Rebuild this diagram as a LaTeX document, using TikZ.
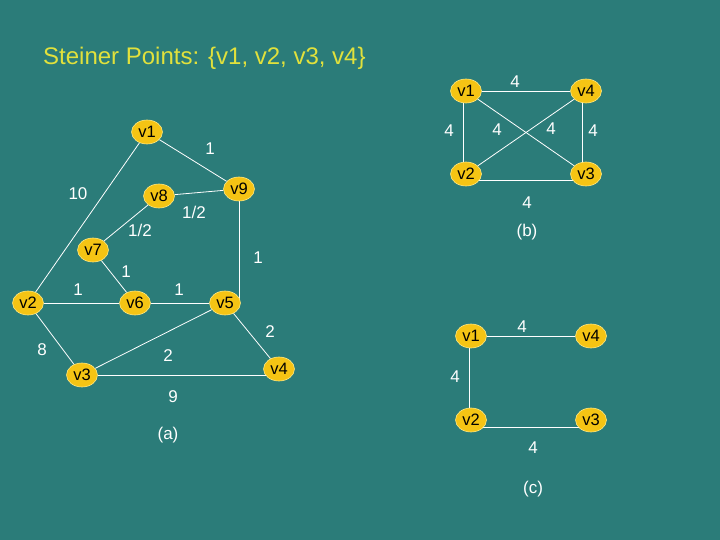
\documentclass[tikz,border=0pt]{standalone}
\usepackage{fontspec}
\setmainfont{Liberation Sans}
\usetikzlibrary{shapes.geometric,backgrounds}
\definecolor{bg}{RGB}{43,124,121}
\definecolor{nodefill}{RGB}{245,196,20}
\definecolor{nodeborder}{RGB}{255,232,130}
\definecolor{titlecol}{RGB}{225,225,60}
\begin{document}
\begin{tikzpicture}[x=1pt,y=-1pt,
  vtx/.style={ellipse, fill=nodefill, draw=nodeborder, line width=0.6pt,
    minimum width=31pt, minimum height=24pt, inner sep=0pt,
    font=\fontsize{16.5}{16.5}\selectfont, text=black},
  lbl/.style={text=white, font=\fontsize{17}{17}\selectfont, inner sep=0pt},
  edge/.style={draw=white, line width=0.8pt}]
\useasboundingbox (0,0) rectangle (720,540);
\node[anchor=base west, text=titlecol, font=\fontsize{24}{24}\selectfont, inner sep=0pt] (title) at (43,65) {Steiner Points: \{v1, v2, v3, v4\}};
% graph (a)
\node[vtx] (a1) at (147,132) {v1};
\node[vtx] (a9) at (239,189) {v9};
\node[vtx] (a8) at (159,196) {v8};
\node[vtx] (a7) at (93,250) {v7};
\node[vtx] (a2) at (28,303) {v2};
\node[vtx] (a6) at (135,303) {v6};
\node[vtx] (a5) at (225,303) {v5};
\node[vtx] (a3) at (82,375) {v3};
\node[vtx] (a4) at (279,369) {v4};
\node[lbl] (la1) at (210,149) {1};
\node[lbl] (la2) at (78,194) {10};
\node[lbl] (la3) at (194,212) {1/2};
\node[lbl] (la4) at (140,230) {1/2};
\node[lbl] (la5) at (258,258) {1};
\node[lbl] (la6) at (126,272) {1};
\node[lbl] (la7) at (78,290) {1};
\node[lbl] (la8) at (179,290) {1};
\node[lbl] (la9) at (270,332) {2};
\node[lbl] (la10) at (42,350) {8};
\node[lbl] (la11) at (168,356) {2};
\node[lbl] (la12) at (173,397) {9};
\node[lbl] (capa) at (168,435) {(a)};
% graph (b)
\node[vtx] (b1) at (466,91) {v1};
\node[vtx] (b4) at (586,91) {v4};
\node[vtx] (b2) at (466,174) {v2};
\node[vtx] (b3) at (586,174) {v3};
\node[lbl] (lb1) at (515,82) {4};
\node[lbl] (lb2) at (449,131) {4};
\node[lbl] (lb3) at (497,130) {4};
\node[lbl] (lb4) at (551,129) {4};
\node[lbl] (lb5) at (593,131) {4};
\node[lbl] (lb6) at (527,203) {4};
\node[lbl] (capb) at (527,232) {(b)};
% graph (c)
\node[vtx] (c1) at (471,336) {v1};
\node[vtx] (c4) at (591,336) {v4};
\node[vtx] (c2) at (471,420) {v2};
\node[vtx] (c3) at (591,420) {v3};
\node[lbl] (lc1) at (522,327) {4};
\node[lbl] (lc2) at (455,377) {4};
\node[lbl] (lc3) at (533,448) {4};
\node[lbl] (capc) at (533,489) {(c)};
\begin{scope}[on background layer]
\fill[bg] (0,0) rectangle (720,540);
\draw[edge] (a1) -- (a2);
\draw[edge] (a1) -- (a9);
\draw[edge] (a8) -- (a9);
\draw[edge] (a8) -- (a7);
\draw[edge] (a7) -- (a6);
\draw[edge] (a9) -- (a9 |- a5);
\draw[edge] (a2) -- (a6);
\draw[edge] (a6) -- (a5);
\draw[edge] (a2) -- (a3);
\draw[edge] (a3) -- (a5);
\draw[edge] (a3) -- (a3 -| a4);
\draw[edge] (a5) -- (a4);
\draw[edge] (b1) -- (b4);
\draw[edge] ([xshift=-3pt]b1.center) -- ([xshift=-3pt]b2.center);
\draw[edge] ([xshift=-4pt]b4.center) -- ([xshift=-4pt]b3.center);
\draw[edge] ([yshift=-6pt]b2.center) -- ([yshift=-6pt]b3.center);
\draw[edge] (b1) -- (b3);
\draw[edge] (b2) -- (b4);
\draw[edge] (c1) -- (c4);
\draw[edge] ([xshift=-2pt]c1.center) -- ([xshift=-2pt]c2.center);
\draw[edge] ([yshift=-7pt]c2.center) -- ([yshift=-7pt]c3.center);
\end{scope}
\end{tikzpicture}
\end{document}
